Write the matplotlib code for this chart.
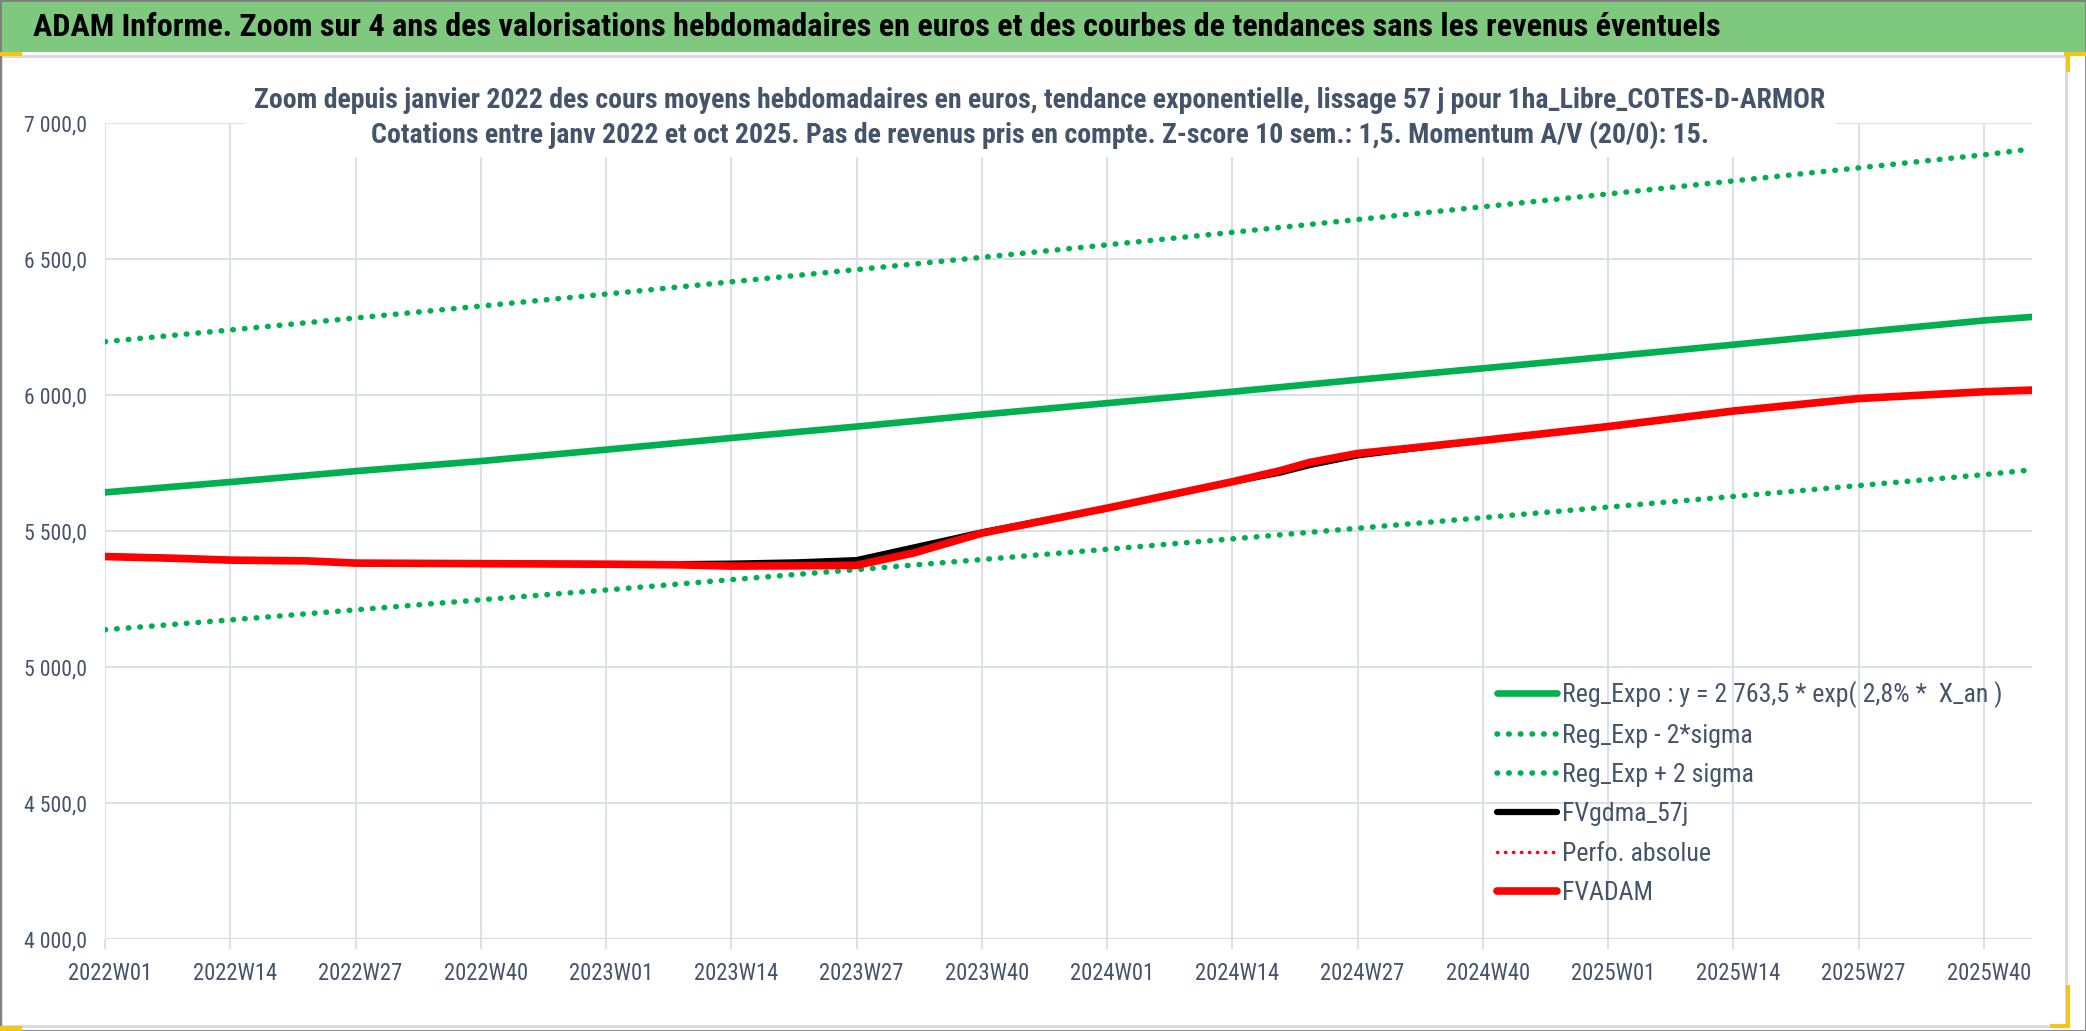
import matplotlib
matplotlib.use("Agg")
import matplotlib.pyplot as plt
from matplotlib.patches import Rectangle
from matplotlib.ticker import FuncFormatter, FixedLocator
from matplotlib.transforms import ScaledTranslation
from matplotlib import font_manager as fm

# ---------------- data ----------------
tick_labels = ["2022W01", "2022W14", "2022W27", "2022W40", "2023W01", "2023W14",
               "2023W27", "2023W40", "2024W01", "2024W14", "2024W27", "2024W40",
               "2025W01", "2025W14", "2025W27", "2025W40"]
n_weeks = 201  # 2022W01 .. last weekly point

trend_weeks = [0, 13, 26, 39, 52, 65, 78, 91, 104, 117, 130, 143, 156, 169, 182, 195, 200]
reg_expo = [5642, 5680, 5720, 5757, 5799, 5842, 5884, 5928, 5970, 6012, 6056, 6098,
            6141, 6185, 6230, 6274, 6287]
reg_minus = [5137, 5173, 5210, 5247, 5283, 5321, 5358, 5395, 5433, 5471, 5510, 5549,
             5588, 5627, 5667, 5707, 5725]
reg_plus = [6196, 6239, 6283, 6327, 6371, 6416, 6461, 6506, 6552, 6598, 6645, 6692,
            6739, 6787, 6835, 6883, 6905]

fv_weeks = [0, 7, 13, 21, 26, 39, 52, 59, 65, 72, 78, 84, 91, 104, 117, 122, 125,
            130, 135, 143, 156, 169, 182, 195, 200]
fvadam = [5406, 5400, 5393, 5390, 5382, 5380, 5378, 5376, 5371, 5372, 5374, 5420,
          5492, 5584, 5681, 5722, 5752, 5785, 5803, 5833, 5884, 5941, 5987, 6012, 6018]
fvgdma = [5406, 5400, 5393, 5390, 5382, 5380, 5378, 5378, 5380, 5385, 5393, 5440,
          5495, 5584, 5681, 5715, 5742, 5778, 5800, 5833, 5884, 5941, 5987, 6012, 6018]
perfo = fvadam

labels = ["Reg_Expo : y = 2 763,5 * exp( 2,8% *  X_an )", "Reg_Exp - 2*sigma",
          "Reg_Exp + 2 sigma", "FVgdma_57j", "Perfo. absolue", "FVADAM"]

banner_title = ("ADAM Informe. Zoom sur 4 ans des valorisations hebdomadaires en euros "
                "et des courbes de tendances sans les revenus éventuels")
chart_title_1 = ("Zoom depuis janvier 2022 des cours moyens hebdomadaires en euros, "
                 "tendance exponentielle, lissage 57 j pour 1ha_Libre_COTES-D-ARMOR")
chart_title_2 = ("Cotations entre janv 2022 et oct 2025. Pas de revenus pris en compte. "
                 "Z-score 10 sem.: 1,5. Momentum A/V (20/0): 15.")

# ---------------- style ----------------
names = {f.name for f in fm.fontManager.ttflist}
cond = [n for n in ["Liberation Sans Narrow", "Roboto Condensed", "Open Sans Condensed",
                    "Arial Narrow"] if n in names]
FONT = [cond[0], "DejaVu Sans"] if cond else ["Roboto", "DejaVu Sans"]
plt.rcParams["font.family"] = FONT

W, H = 2086, 1031
DPI = 100
fig = plt.figure(figsize=(W / DPI, H / DPI), dpi=DPI)
fig.patch.set_facecolor("white")

def fx(px):
    return px / W

def fy(py):
    return 1 - py / H

SLATE = "#44546A"
GRID = "#DDE1E6"
GREEN = "#00B050"

ax = fig.add_axes([fx(105), fy(939), fx(2032) - fx(105), fy(123) - fy(939)])
ax.set_xlim(0, n_weeks - 1)
ax.set_ylim(4000, 7000)
for s in ax.spines.values():
    s.set_visible(False)

ax.xaxis.set_major_locator(FixedLocator([13 * i for i in range(len(tick_labels))]))
ax.set_xticklabels(tick_labels)
ax.set_yticks([4000, 4500, 5000, 5500, 6000, 6500, 7000])
ax.yaxis.set_major_formatter(FuncFormatter(
    lambda v, p: f"{v:,.1f}".replace(",", " ").replace(".", ",")))
ax.tick_params(axis="x", length=7, width=1.5, color=GRID, labelsize=17,
               labelcolor=SLATE, pad=15)
ax.tick_params(axis="y", length=0, labelsize=16, labelcolor=SLATE, pad=13)
ax.grid(True, color=GRID, linewidth=1.5, zorder=0)
ax.axhline(4000, color="#D9D9D9", linewidth=2.5, zorder=1)

dot = (0, (0.1, 2.0))
ax.plot(trend_weeks, reg_expo, color=GREEN, lw=4.8, solid_capstyle="round",
        label=labels[0], zorder=3)
ax.plot(trend_weeks, reg_minus, color=GREEN, lw=4.0, linestyle=dot,
        dash_capstyle="round", label=labels[1], zorder=3)
ax.plot(trend_weeks, reg_plus, color=GREEN, lw=4.0, linestyle=dot,
        dash_capstyle="round", label=labels[2], zorder=3)
ax.plot(fv_weeks, fvgdma, color="black", lw=4.5, solid_capstyle="round",
        label=labels[3], zorder=4)
ax.plot(fv_weeks, perfo, color="#FF0000", lw=2.5, linestyle=(0, (0.1, 2.2)),
        dash_capstyle="round", label=labels[4], zorder=4)
ax.plot(fv_weeks, fvadam, color="#FF0000", lw=5.5, solid_capstyle="round",
        label=labels[5], zorder=5)

# ---------------- decorations ----------------
fig.patches.append(Rectangle((fx(1), fy(1026)), fx(2066) - fx(1), fy(56) - fy(1026),
                             transform=fig.transFigure, facecolor="none",
                             edgecolor="#D9D9D9", lw=2, zorder=1))
fig.patches.append(Rectangle((0, fy(52)), 1, fy(0) - fy(52), transform=fig.transFigure,
                             facecolor="#7EC97E", edgecolor="none", zorder=1))
fig.patches.append(Rectangle((0, 0), 1, 1, transform=fig.transFigure, facecolor="none",
                             edgecolor="#7F7F7F", lw=2, zorder=6))
for (x0, y0, x1, y1) in [(0, 52, 22, 56), (2064, 52, 2086, 56), (2066, 52, 2070, 72),
                         (2066, 985, 2070, 1026), (2050, 1024, 2070, 1028),
                         (0, 1026, 22, 1031)]:
    fig.patches.append(Rectangle((fx(x0), fy(y1)), fx(x1) - fx(x0), fy(y0) - fy(y1),
                                 transform=fig.transFigure, facecolor="#F5C518",
                                 edgecolor="none", zorder=6))
fig.patches.append(Rectangle((fx(245), fy(157)), fx(1836) - fx(245), fy(80) - fy(157),
                             transform=fig.transFigure, facecolor="white",
                             edgecolor="none", zorder=2))

t_banner = fig.text(fx(33), fy(27), banner_title, fontsize=23, fontweight="bold",
                    color="black", ha="left", va="center", zorder=7)
t_1 = fig.text(fx(1040), fy(101), chart_title_1, fontsize=20, fontweight="semibold",
               color=SLATE, ha="center", va="center", zorder=7)
t_2 = fig.text(fx(1040), fy(135), chart_title_2, fontsize=20, fontweight="semibold",
               color=SLATE, ha="center", va="center", zorder=7)

# ---------------- fit text sizes to the reference widths ----------------
fig.canvas.draw()
r = fig.canvas.get_renderer()

def width(t):
    return t.get_window_extent(r).width

t_banner.set_fontsize(t_banner.get_fontsize() * 1695 / width(t_banner))
s1 = 1580 / width(t_1)
s2 = 1326 / width(t_2)
s = (s1 + s2) / 2
t_1.set_fontsize(t_1.get_fontsize() * s)
t_2.set_fontsize(t_2.get_fontsize() * s)

xl = ax.get_xticklabels()[0]
ax.tick_params(axis="x", labelsize=17 * 80 / width(xl) * 1.06)
yl = ax.get_yticklabels()[-1]
ax.tick_params(axis="y", labelsize=16 * 60 / width(yl) * 1.05)

leg = ax.legend(fontsize=17)
fig.canvas.draw()
lfs = 17 * 440 / width(leg.get_texts()[0])
leg.remove()
fpx = lfs * DPI / 72

def make_legend(top, ls):
    lg = ax.legend(loc="upper left", bbox_to_anchor=(fx(1497), fy(top)),
                   bbox_transform=fig.transFigure, frameon=False, fontsize=lfs,
                   handlelength=60 / fpx, handletextpad=5 / fpx, labelspacing=ls,
                   borderpad=0, borderaxespad=0)
    for t in lg.get_texts():
        t.set_color(SLATE)
    return lg

def row_centres(lg):
    fig.canvas.draw()
    ts = lg.get_texts()
    return [H - (t.get_window_extent(r).y0 + t.get_window_extent(r).y1) / 2 for t in ts]

ls = 0.6
leg = make_legend(680, ls)
c = row_centres(leg)
pitch = (c[-1] - c[0]) / 5
ls = ls + (39.6 - pitch) / fpx
leg.remove()
leg = make_legend(680, ls)
c = row_centres(leg)
leg.remove()
leg = make_legend(680 + (695 - c[0]), ls)

# x labels: centre at y=973 px and nudged 5 px right as in the reference
fig.canvas.draw()
lab = ax.get_xticklabels()[0].get_window_extent(r)
cy = (lab.y0 + lab.y1) / 2
delta = cy - (H - 973)
ax.tick_params(axis="x", pad=15 + delta * 72 / DPI)
off = ScaledTranslation(5 / DPI, 0, fig.dpi_scale_trans)
for t in ax.get_xticklabels():
    t.set_transform(t.get_transform() + off)

fig.savefig("out.png", dpi=DPI, facecolor="white")
